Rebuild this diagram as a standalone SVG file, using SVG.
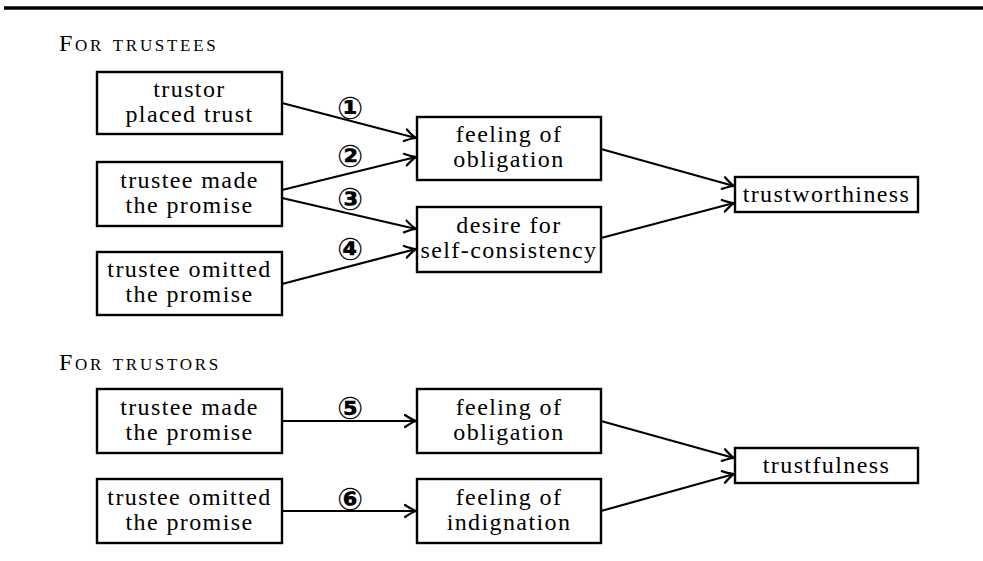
<svg xmlns="http://www.w3.org/2000/svg" width="983" height="561" viewBox="0 0 983 561">
  <defs>
    <marker id="ah" viewBox="-13 -8 15 16" refX="0" refY="0" markerWidth="15" markerHeight="16" orient="auto" markerUnits="userSpaceOnUse">
      <path d="M-11,-6 Q-4,-1.3 0,0 Q-4,1.3 -11,6" fill="none" stroke="#000" stroke-width="2.2" stroke-linecap="round" stroke-linejoin="round"/>
    </marker>
  </defs>
  <style>
    .box { fill: #fff; stroke: #000; stroke-width: 2.4; }
    .t { font-family: "Liberation Serif", "Times New Roman", serif; font-size: 24px; letter-spacing: 1.4px; text-anchor: middle; fill: #000; }
    .sec { font-family: "Liberation Serif", "Times New Roman", serif; font-size: 24px; letter-spacing: 2.7px; font-variant: small-caps; fill: #000; }
    .num { font-family: "DejaVu Sans", sans-serif; font-size: 31px; font-weight: bold; text-anchor: middle; fill: #000; }
    .edge { stroke: #000; stroke-width: 2.2; fill: none; marker-end: url(#ah); }
  </style>

  <!-- top rule -->
  <line x1="4" y1="8" x2="983" y2="8" stroke="#000" stroke-width="3.5"/>

  <!-- section headings -->
  <text class="sec" x="59" y="51">For trustees</text>
  <text class="sec" x="59" y="370">For trustors</text>

  <!-- connectors -->
  <g id="connectors">
    <line class="edge" x1="282" y1="103" x2="416" y2="138"/>
    <line class="edge" x1="282" y1="190" x2="416" y2="157"/>
    <line class="edge" x1="282" y1="198" x2="416" y2="229"/>
    <line class="edge" x1="282" y1="284" x2="416" y2="249"/>
    <line class="edge" x1="601" y1="149" x2="734" y2="186"/>
    <line class="edge" x1="601" y1="238" x2="734" y2="203"/>
    <line class="edge" x1="282" y1="421" x2="416" y2="421"/>
    <line class="edge" x1="282" y1="511" x2="416" y2="511"/>
    <line class="edge" x1="601" y1="421" x2="734" y2="458"/>
    <line class="edge" x1="601" y1="511" x2="734" y2="474"/>
    <text class="num" x="350" y="119">①</text>
    <text class="num" x="350" y="167">②</text>
    <text class="num" x="350" y="210">③</text>
    <text class="num" x="350" y="260">④</text>
    <text class="num" x="350" y="419">⑤</text>
    <text class="num" x="350" y="510">⑥</text>
  </g>

  <!-- trustee side -->
  <g id="trustor-placed-trust">
    <rect class="box" x="97" y="72" width="185" height="62"/>
    <text class="t" x="189.5" y="96.5">trustor</text>
    <text class="t" x="189.5" y="121.5">placed trust</text>
  </g>
  <g id="trustee-made-promise">
    <rect class="box" x="97" y="162" width="185" height="64"/>
    <text class="t" x="189.5" y="187.5">trustee made</text>
    <text class="t" x="189.5" y="212.5">the promise</text>
  </g>
  <g id="trustee-omitted-promise">
    <rect class="box" x="97" y="252" width="185" height="63"/>
    <text class="t" x="189.5" y="277">trustee omitted</text>
    <text class="t" x="189.5" y="302">the promise</text>
  </g>
  <g id="feeling-of-obligation">
    <rect class="box" x="417" y="117" width="184" height="63"/>
    <text class="t" x="509" y="142">feeling of</text>
    <text class="t" x="509" y="167">obligation</text>
  </g>
  <g id="desire-self-consistency">
    <rect class="box" x="417" y="207" width="184" height="65"/>
    <text class="t" x="509" y="233">desire for</text>
    <text class="t" x="509" y="258">self-consistency</text>
  </g>
  <g id="trustworthiness">
    <rect class="box" x="735" y="177" width="183" height="35"/>
    <text class="t" x="826.5" y="202">trustworthiness</text>
  </g>

  <!-- trustor side -->
  <g id="trustor-made-promise">
    <rect class="box" x="97" y="389" width="185" height="64"/>
    <text class="t" x="189.5" y="414.5">trustee made</text>
    <text class="t" x="189.5" y="439.5">the promise</text>
  </g>
  <g id="trustor-omitted-promise">
    <rect class="box" x="97" y="479" width="185" height="64"/>
    <text class="t" x="189.5" y="504.5">trustee omitted</text>
    <text class="t" x="189.5" y="529.5">the promise</text>
  </g>
  <g id="trustor-feeling-obligation">
    <rect class="box" x="417" y="389" width="184" height="64"/>
    <text class="t" x="509" y="414.5">feeling of</text>
    <text class="t" x="509" y="439.5">obligation</text>
  </g>
  <g id="feeling-of-indignation">
    <rect class="box" x="417" y="479" width="184" height="64"/>
    <text class="t" x="509" y="504.5">feeling of</text>
    <text class="t" x="509" y="529.5">indignation</text>
  </g>
  <g id="trustfulness">
    <rect class="box" x="735" y="448" width="183" height="35"/>
    <text class="t" x="826.5" y="473">trustfulness</text>
  </g>
</svg>
